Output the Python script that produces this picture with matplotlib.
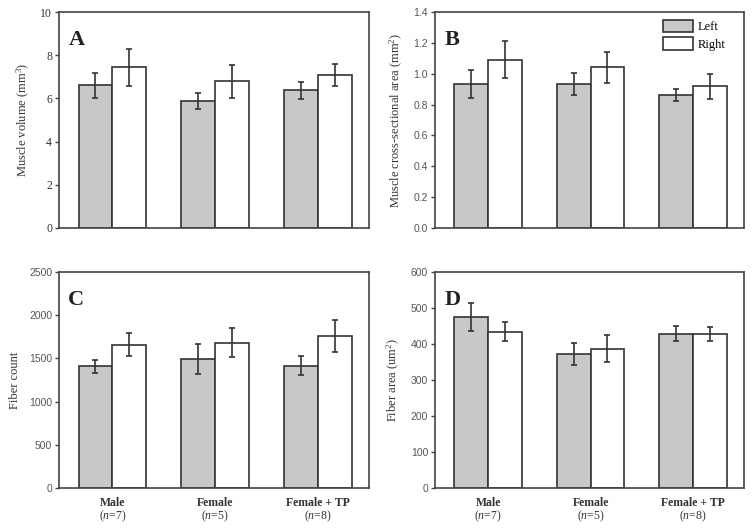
import matplotlib
matplotlib.use("Agg")
import matplotlib.pyplot as plt
import numpy as np

plt.rcParams['mathtext.fontset'] = 'custom'
plt.rcParams['mathtext.rm'] = 'Liberation Serif'
plt.rcParams['mathtext.it'] = 'Liberation Serif:italic'
plt.rcParams['mathtext.bf'] = 'Liberation Serif:bold'

groups = ["Male", "Female", "Female + TP"]
group_n = ["7", "5", "8"]

vol_left = [6.62, 5.88, 6.37]
vol_left_err = [0.58, 0.39, 0.38]
vol_right = [7.44, 6.79, 7.07]
vol_right_err = [0.86, 0.75, 0.51]

csa_left = [0.934, 0.934, 0.863]
csa_left_err = [0.09, 0.07, 0.04]
csa_right = [1.092, 1.042, 0.919]
csa_right_err = [0.12, 0.10, 0.08]

fib_left = [1409, 1494, 1416]
fib_left_err = [74, 172, 112]
fib_right = [1660, 1683, 1761]
fib_right_err = [134, 168, 188]

area_left = [475, 372, 428]
area_left_err = [40, 30, 21]
area_right = [434, 387, 427]
area_right_err = [26, 37, 20]

panels = [
    dict(letter="A", left=vol_left, le=vol_left_err, right=vol_right, re=vol_right_err,
         ylim=(0, 10), ticks=[0, 2, 4, 6, 8, 10], fmt="{:g}", label=r"Muscle volume (mm$^3$)", serif_ticks=True),
    dict(letter="B", left=csa_left, le=csa_left_err, right=csa_right, re=csa_right_err,
         ylim=(0, 1.4), ticks=[0, 0.2, 0.4, 0.6, 0.8, 1.0, 1.2, 1.4], fmt="{:.1f}",
         label=r"Muscle cross-sectional area (mm$^2$)", serif_ticks=False),
    dict(letter="C", left=fib_left, le=fib_left_err, right=fib_right, re=fib_right_err,
         ylim=(0, 2500), ticks=[0, 500, 1000, 1500, 2000, 2500], fmt="{:d}",
         label="Fiber count", serif_ticks=False),
    dict(letter="D", left=area_left, le=area_left_err, right=area_right, re=area_right_err,
         ylim=(0, 600), ticks=[0, 100, 200, 300, 400, 500, 600], fmt="{:d}",
         label=r"Fiber area (um$^2$)", serif_ticks=False),
]

fig = plt.figure(figsize=(7.52, 5.28), dpi=100)
positions = [
    (0.0785, 0.5682, 0.4122, 0.409),
    (0.5785, 0.5682, 0.4110, 0.409),
    (0.0785, 0.0758, 0.4122, 0.409),
    (0.5785, 0.0758, 0.4110, 0.409),
]

edge = "#333333"
gray = "#c8c8c8"
x = np.arange(len(groups))
w = 0.33

for i, (p, pos) in enumerate(zip(panels, positions)):
    ax = fig.add_axes(pos)
    ekw = dict(elinewidth=1.2, capthick=1.2, ecolor="#333333")
    ax.bar(x - w / 2, p["left"], w, yerr=p["le"], color=gray, edgecolor=edge, linewidth=1.2,
           capsize=2.5, error_kw=ekw, label="Left", zorder=2)
    ax.bar(x + w / 2, p["right"], w, yerr=p["re"], color="white", edgecolor=edge, linewidth=1.2,
           capsize=2.5, error_kw=ekw, label="Right", zorder=2)
    ax.set_xlim(-0.52, 2.50)
    ax.set_ylim(*p["ylim"])
    ax.set_yticks(p["ticks"])
    ax.set_yticklabels([p["fmt"].format(t) for t in p["ticks"]])
    for s in ax.spines.values():
        s.set_color("#444444")
        s.set_linewidth(1.2)
    ax.tick_params(axis="y", direction="out", length=3, width=1, color="#444444",
                   labelsize=7.5, labelcolor="#555555", pad=2)
    if p["serif_ticks"]:
        for lab in ax.get_yticklabels():
            lab.set_family("Liberation Serif")
            lab.set_fontsize(8.5)
            lab.set_color("#333333")
    else:
        for lab in ax.get_yticklabels():
            lab.set_family("Liberation Sans")
    ax.set_xticks(x)
    ax.tick_params(axis="x", length=0)
    ax.set_xticklabels([])
    if i >= 2:
        for xi, g, n in zip(x, groups, group_n):
            ax.annotate(g, xy=(xi, 0), xycoords=("data", "axes fraction"), xytext=(0, -10.5),
                        textcoords="offset points", ha="center", va="center",
                        family="Liberation Serif", fontweight="bold", fontsize=8.5, color="#333333")
            ax.annotate(r"($\mathit{n}$=" + n + ")", xy=(xi, 0), xycoords=("data", "axes fraction"),
                        xytext=(0, -20.5), textcoords="offset points", ha="center", va="center",
                        family="Liberation Serif", fontsize=8.5, color="#333333")
    ax.set_ylabel(p["label"], family="Liberation Serif", fontsize=9, color="#333333", labelpad=6)
    ax.text(0.03, 0.87, p["letter"], transform=ax.transAxes, family="Liberation Serif",
            fontweight="bold", fontsize=16, color="#222222", va="center", ha="left")
    if i == 1:
        leg = ax.legend(loc="upper right", frameon=False, prop=dict(family="Liberation Serif", size=9),
                        handlelength=2.4, handleheight=1.2, borderaxespad=0.2, labelspacing=0.3,
                        handletextpad=0.4, bbox_to_anchor=(0.965, 1.0))

fig.savefig("out.png", dpi=100)
